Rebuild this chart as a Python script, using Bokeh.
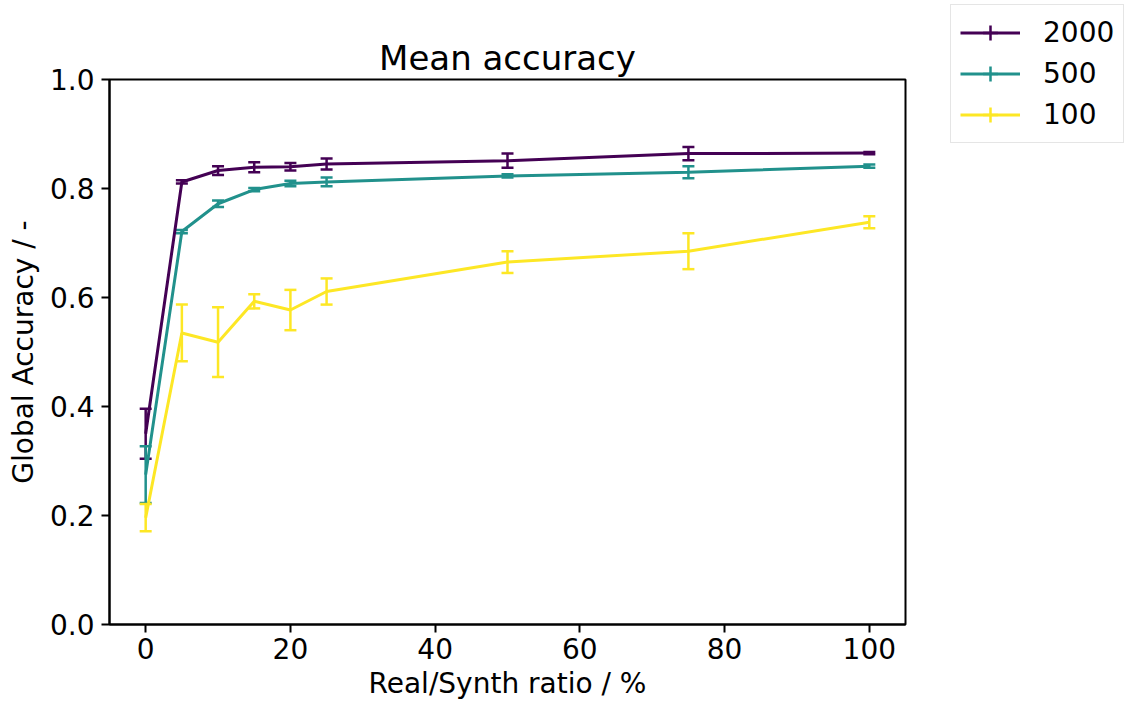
import numpy as np
from bokeh.plotting import figure
from bokeh.models import (ColumnDataSource, Whisker, TeeHead, Legend, LegendItem,
                          FixedTicker, NumeralTickFormatter, Range1d)
from bokeh.embed import file_html
from bokeh.resources import INLINE

# ---- data ----
ratios = [0, 5, 10, 15, 20, 25, 50, 75, 100]
series_names = ["2000", "500", "100"]
mean_2000 = [0.350, 0.812, 0.833, 0.839, 0.840, 0.845, 0.851, 0.864, 0.865]
err_2000 = [0.046, 0.003, 0.008, 0.009, 0.007, 0.010, 0.013, 0.012, 0.002]
mean_500 = [0.275, 0.721, 0.772, 0.798, 0.809, 0.812, 0.823, 0.830, 0.841]
err_500 = [0.052, 0.003, 0.006, 0.003, 0.005, 0.008, 0.003, 0.011, 0.003]
mean_100 = [0.196, 0.535, 0.518, 0.593, 0.577, 0.611, 0.665, 0.685, 0.738]
err_100 = [0.025, 0.052, 0.064, 0.013, 0.037, 0.024, 0.020, 0.033, 0.011]
colors = ["#440154", "#21918c", "#fde725"]
x_ticks = [0, 20, 40, 60, 80, 100]
y_ticks = [0.0, 0.2, 0.4, 0.6, 0.8, 1.0]

FONT = "DejaVu Sans"

p = figure(frame_width=796, frame_height=545, output_backend="svg", toolbar_location=None,
           min_border_left=109, min_border_right=0, min_border_top=79, min_border_bottom=80,
           x_range=Range1d(-5, 105), y_range=Range1d(0, 1),
           title="Mean accuracy")

p.title.text_font = FONT
p.title.text_font_size = "34px"
p.title.text_font_style = "normal"
p.title.text_color = "black"
p.title.align = "center"
p.title.standoff = 3

p.xgrid.visible = False
p.ygrid.visible = False
p.outline_line_color = "black"
p.outline_line_width = 2
p.outline_line_alpha = 1

for ax in (p.xaxis[0], p.yaxis[0]):
    ax.axis_line_color = "black"
    ax.axis_line_width = 2
    ax.major_tick_line_width = 2
    ax.major_tick_in = 0
    ax.major_tick_out = 8
    ax.minor_tick_line_color = None
    ax.major_label_text_font = FONT
    ax.major_label_text_font_size = "28px"
    ax.major_label_text_color = "black"
    ax.axis_label_text_font = FONT
    ax.axis_label_text_font_size = "28px"
    ax.axis_label_text_font_style = "normal"
    ax.axis_label_text_color = "black"

p.xaxis.major_label_standoff = 5
p.yaxis.major_label_standoff = 7
p.xaxis.ticker = FixedTicker(ticks=x_ticks)
p.yaxis.ticker = FixedTicker(ticks=y_ticks)
p.yaxis.formatter = NumeralTickFormatter(format="0.0")
p.xaxis.axis_label = "Real/Synth ratio / %"
p.yaxis.axis_label = "Global Accuracy / -"
p.xaxis.axis_label_standoff = 5
p.yaxis.axis_label_standoff = 7

items = []
for name, m, e, c in zip(series_names, [mean_2000, mean_500, mean_100],
                         [err_2000, err_500, err_100], colors):
    m = np.array(m)
    e = np.array(e)
    src = ColumnDataSource(dict(x=ratios, y=m, lo=m - e, hi=m + e))
    line_r = p.line("x", "y", source=src, line_color=c, line_width=3)
    w = Whisker(base="x", upper="hi", lower="lo", source=src, dimension="height",
                line_color=c, line_width=2.5,
                upper_head=TeeHead(size=12, line_color=c, line_width=2.5),
                lower_head=TeeHead(size=12, line_color=c, line_width=2.5))
    p.add_layout(w)
    mark_r = p.scatter("x", "y", source=src, marker="cross", size=0,
                       line_color=c, line_width=2.5)
    items.append(LegendItem(label=name, renderers=[line_r, mark_r]))

legend = Legend(items=items, location=(45, 481))
legend.label_text_font = FONT
legend.label_text_font_size = "28px"
legend.label_text_color = "black"
legend.glyph_width = 60
legend.glyph_height = 37
legend.label_height = 37
legend.spacing = 4
legend.label_standoff = 23
legend.padding = 9
legend.margin = 0
legend.border_line_color = "#cccccc"
legend.border_line_width = 1.5
legend.background_fill_alpha = 0.8
p.add_layout(legend, "right")

open("out.html", "w").write(file_html(p, INLINE))
